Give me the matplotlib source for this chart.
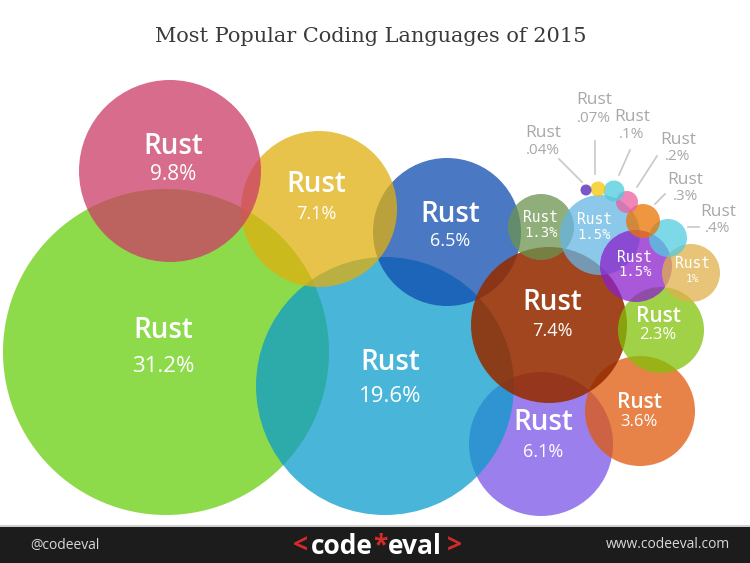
import matplotlib
matplotlib.use('Agg')
import matplotlib.pyplot as plt
from matplotlib.colors import to_rgb
from matplotlib.patches import Circle, Rectangle
import numpy as np

W, H = 750, 563

# bubble values (pixel frame of the infographic), listed in drawing order
langs = ['Rust'] * 19
pcts = ['31.2%', '6.1%', '19.6%', '6.5%', '7.1%', '9.8%', '3.6%', '7.4%', '1.3%',
        '1.5%', '2.3%', '1.5%', '1%', '.4%', '.3%', '.2%', '.1%', '.07%', '.04%']
cx = [166, 541, 385, 447, 319, 170, 640, 549, 541, 600, 661, 636, 691, 668, 643, 627, 614, 598, 586]
cy = [352, 444, 386, 232, 209, 171, 411, 325, 227, 235, 330, 266, 273, 238, 221, 202, 191, 189, 190]
rad = [163, 72, 129, 74, 78, 91, 55, 78, 33, 40, 43, 36, 29, 19, 17, 11, 10.5, 7.5, 5.5]
# colour each bubble shows over white
seen = ['#8ddb4b', '#9b80ee', '#49b5d8', '#4a78c2', '#e8c34a', '#d96c8c', '#e88248',
        '#a24510', '#8fae7a', '#8cc8eb', '#a0d146', '#a858d8', '#e8c478', '#7dd8e8',
        '#ef963c', '#f087b9', '#78d8e6', '#f5d446', '#7858c8']
alpha = [0.75] * 19
alpha[7] = 0.88
kind = ['big'] * 6 + ['mid', 'big', 'mono', 'mono', 'mid', 'mono', 'mono'] + ['out'] * 6

# label layout: (x, y of name, y of percent)
lab_xy = [(163, 330, 366), (543, 423, 452), (390, 362, 397), (450, 214, 241),
          (316, 185, 214), (173, 147, 174), (639, 402, 422), (552, 303, 331),
          (541, 217, 233), (594, 220, 235), (658, 316, 335), (635, 257, 272),
          (692, 264, 279),
          (718, 212, 229), (685, 180, 197), (678, 140, 157), (632, 117, 134),
          (594, 100, 118), (543, 133, 151)]
out_line = [((688, 227), (699, 227)), ((655, 204), (665, 194)), ((637, 187), (657, 156)),
            ((619, 175), (630, 150)), ((595, 174), (595, 141)), ((582, 182), (559, 159))]

fig = plt.figure(figsize=(7.5, 5.63), dpi=100)
ax = fig.add_axes([0, 0, 1, 1])
ax.set_xlim(0, W)
ax.set_ylim(H, 0)
ax.axis('off')

for i in range(len(cx)):
    a = alpha[i]
    face = np.clip((np.array(to_rgb(seen[i])) - (1 - a)) / a, 0, 1)
    ax.add_patch(Circle((cx[i], cy[i]), rad[i], facecolor=face, edgecolor='none',
                        alpha=a, zorder=2 + i * 0.01))

sans = ['Open Sans', 'DejaVu Sans']
j = 0
for i, (lx, ly, py) in enumerate(lab_xy):
    if kind[i] == 'big':
        fs2 = 16 if pcts[i] in ('31.2%', '19.6%') else (15 if pcts[i] == '9.8%' else 13)
        ax.text(lx, ly, langs[i], color='white', fontsize=20, family=sans,
                fontweight='semibold', ha='center', va='center', zorder=5)
        ax.text(lx, py, pcts[i], color='white', fontsize=fs2, family=sans,
                ha='center', va='center', zorder=5)
    elif kind[i] == 'mid':
        ax.text(lx, ly, langs[i], color='white', fontsize=15, family=sans,
                fontweight='semibold', ha='center', va='center', zorder=5)
        ax.text(lx, py, pcts[i], color='white', fontsize=12, family=sans,
                ha='center', va='center', zorder=5)
    elif kind[i] == 'mono':
        ax.text(lx, ly, langs[i], color='white', fontsize=10.5, family='DejaVu Sans Mono',
                ha='center', va='center', zorder=5)
        fs2 = 8 if pcts[i] == '1%' else 10
        ax.text(lx, py, pcts[i], color='white', fontsize=fs2, family='DejaVu Sans Mono',
                ha='center', va='center', zorder=5)
    else:
        ax.text(lx, ly, langs[i], color='#a8a8a8', fontsize=12.5, family=sans,
                ha='center', va='center', zorder=5)
        ax.text(lx, py, pcts[i], color='#a8a8a8', fontsize=11, family=sans,
                ha='center', va='center', zorder=5)
        (x0, y0), (x1, y1) = out_line[j]
        ax.plot([x0, x1], [y0, y1], color='#c8c8c8', lw=1.2, zorder=4)
        j += 1

ax.text(W / 2 - 4, 36, 'Most Popular Coding Languages of 2015', color='#3a3a3a',
        fontsize=15, family='DejaVu Serif', ha='center', va='center')

# footer band
ax.add_patch(Rectangle((0, 525), W, 2, facecolor='#d0d0d0', edgecolor='none', zorder=6))
ax.add_patch(Rectangle((0, 527), W, H - 527, facecolor='#1c1c1c', edgecolor='none', zorder=6))
ax.text(30, 545, '@codeeval', color='#d8d8d8', fontsize=10, family=sans,
        ha='left', va='center', zorder=7)
ax.text(730, 545, 'www.codeeval.com', color='#d8d8d8', fontsize=10, family=sans,
        ha='right', va='center', zorder=7)
parts = [('<', '#d42a2a'), ('code', 'white'), ('*', '#d42a2a'), ('eval', 'white'), ('>', '#d42a2a')]
widths = [20, 64, 12, 58, 20]
x = 290
for (s, c), w in zip(parts, widths):
    ax.text(x + w / 2, 546, s, color=c, fontsize=19, family=sans, fontweight='bold',
            ha='center', va='center', zorder=7)
    x += w

fig.savefig('out.png', dpi=100)
